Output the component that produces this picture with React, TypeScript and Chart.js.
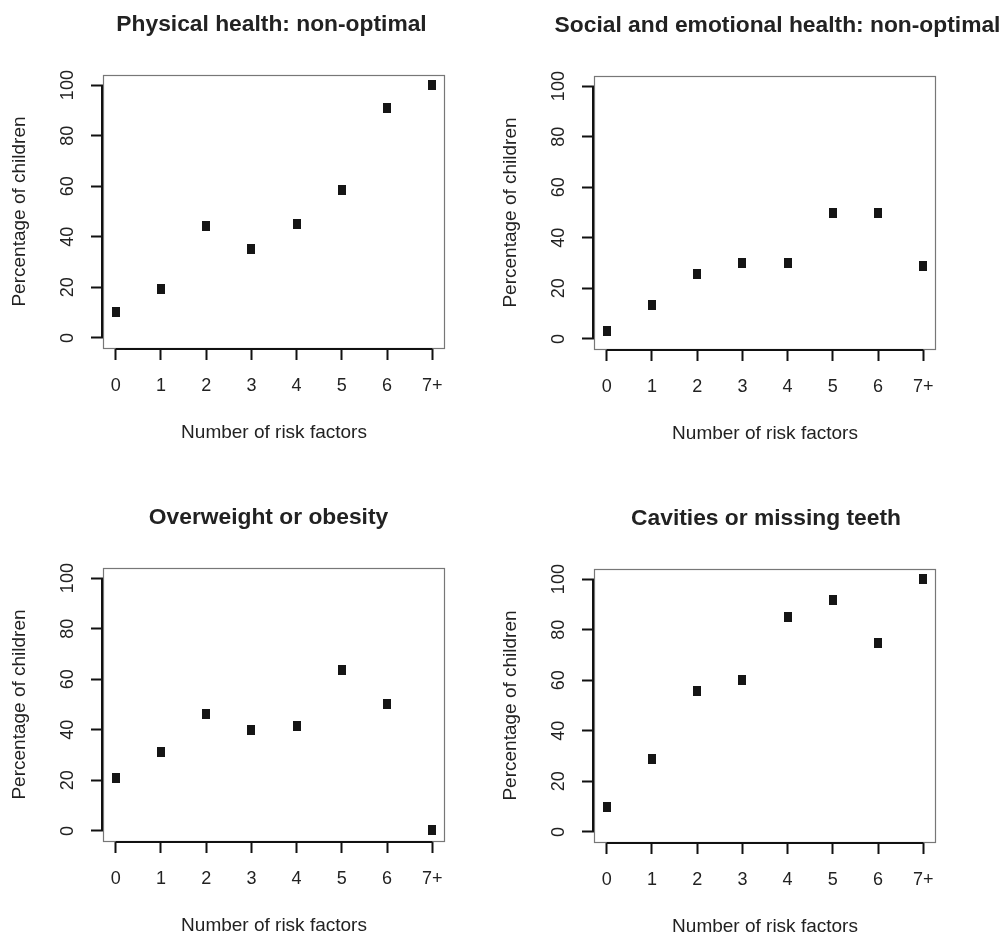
import React, { useEffect, useRef } from 'react';
import { Chart, registerables } from 'chart.js';

Chart.register(...registerables);

// ---- data ----
const categories = ['0', '1', '2', '3', '4', '5', '6', '7+'];
const xValues = [0, 1, 2, 3, 4, 5, 6, 7];
const yTicks = [0, 20, 40, 60, 80, 100];

const physicalHealth = [10.2, 19.2, 44.3, 35, 44.9, 58.4, 91, 100];
const socialEmotional = [3.3, 13.5, 25.8, 30, 30, 50, 50, 28.7];
const overweight = [20.8, 31.2, 46.3, 40.1, 41.4, 63.8, 50.3, 0.3];
const cavities = [10, 28.8, 55.8, 60, 85.1, 91.7, 74.9, 100];

const panelTitles = [
  'Physical health: non-optimal',
  'Social and emotional health: non-optimal',
  'Overweight or obesity',
  'Cavities or missing teeth',
];
const xAxisTitle = 'Number of risk factors';
const yAxisTitle = 'Percentage of children';

// ---- layout / style ----
const FONT = '"Liberation Sans", Arial, Helvetica, sans-serif';
const W = 511;
const H = 480;
const BOX = { left: 103, top: 75, right: 445, bottom: 348 };
const XAXIS_H = 100;
const TEXT = '#222';

const panelPos = [
  { left: 0, top: 0, titleShift: -2.5 },
  { left: 491, top: 1, titleShift: 12.5 },
  { left: 0, top: 493, titleShift: -5.5 },
  { left: 491, top: 494, titleShift: 1 },
];

function makeMarker(): HTMLCanvasElement {
  const c = document.createElement('canvas');
  c.width = 8;
  c.height = 10;
  const g = c.getContext('2d')!;
  g.fillStyle = '#151515';
  g.fillRect(0, 0, 8, 10);
  return c;
}

function rStylePlugin(title: string, titleShift: number) {
  return {
    id: 'rStyle',
    afterDraw(chart: any) {
      const { ctx, chartArea: a, scales } = chart;
      const xs = scales.x;
      const ys = scales.y;
      ctx.save();
      // plot box
      ctx.strokeStyle = '#777';
      ctx.lineWidth = 1.2;
      ctx.strokeRect(a.left + 0.5, a.top + 0.5, a.right - a.left - 1, a.bottom - a.top);
      // axis lines spanning the tick range
      ctx.strokeStyle = '#111';
      ctx.lineWidth = 2;
      ctx.beginPath();
      ctx.moveTo(a.left - 1, ys.getPixelForValue(yTicks[0]));
      ctx.lineTo(a.left - 1, ys.getPixelForValue(yTicks[yTicks.length - 1]));
      ctx.moveTo(xs.getPixelForValue(xValues[0]), a.bottom + 1);
      ctx.lineTo(xs.getPixelForValue(xValues[xValues.length - 1]), a.bottom + 1);
      ctx.stroke();
      // y tick labels, parallel to axis
      ctx.fillStyle = TEXT;
      ctx.font = `18px ${FONT}`;
      ctx.textAlign = 'center';
      ctx.textBaseline = 'alphabetic';
      for (const t of ys.ticks) {
        const y = ys.getPixelForValue(t.value);
        ctx.save();
        ctx.translate(a.left - 30, y);
        ctx.rotate(-Math.PI / 2);
        ctx.fillText(String(t.value), 0, 0);
        ctx.restore();
      }
      // main title
      ctx.font = `bold 22.8px ${FONT}`;
      ctx.fillStyle = TEXT;
      ctx.textAlign = 'center';
      ctx.textBaseline = 'alphabetic';
      ctx.fillText(title, (a.left + a.right) / 2 + titleShift, a.top - 44);
      ctx.restore();
    },
  };
}

function Panel({
  title,
  values,
  left,
  top,
  titleShift,
}: {
  title: string;
  values: number[];
  left: number;
  top: number;
  titleShift: number;
}) {
  const ref = useRef<HTMLCanvasElement>(null);
  useEffect(() => {
    if (!ref.current) return;
    const marker = makeMarker();
    const gridOpts = {
      display: true,
      drawOnChartArea: false,
      drawTicks: true,
      tickLength: 12,
      tickColor: '#111',
      tickWidth: 2,
    };
    const chart = new Chart(ref.current, {
      type: 'scatter',
      data: {
        datasets: [
          {
            data: xValues.map((x, i) => ({ x, y: values[i] })),
            pointStyle: marker as any,
            pointRadius: 5,
            backgroundColor: '#151515',
            borderWidth: 0,
          },
        ],
      },
      options: {
        animation: false,
        responsive: false,
        devicePixelRatio: 1,
        events: [],
        layout: {
          padding: { left: 0, top: BOX.top, right: W - BOX.right, bottom: H - BOX.bottom - XAXIS_H },
        },
        plugins: {
          legend: { display: false },
          tooltip: { enabled: false },
          title: { display: false },
        },
        scales: {
          x: {
            type: 'linear',
            position: 'bottom',
            min: -0.28,
            max: 7.28,
            bounds: 'data',
            afterBuildTicks: (s: any) => {
              s.ticks = xValues.map((v) => ({ value: v }));
            },
            afterFit: (s: any) => {
              s.height = XAXIS_H;
            },
            grid: gridOpts,
            border: { display: false },
            ticks: {
              autoSkip: false,
              maxRotation: 0,
              minRotation: 0,
              padding: 15,
              color: TEXT,
              font: { family: FONT, size: 18 },
              callback: (v: any) => {
                const i = xValues.indexOf(Number(v));
                return i >= 0 ? categories[i] : '';
              },
            },
            title: {
              display: true,
              text: xAxisTitle,
              color: TEXT,
              font: { family: FONT, size: 19 },
              padding: { top: 0, bottom: 4 },
            },
          },
          y: {
            type: 'linear',
            min: -4,
            max: 104,
            bounds: 'data',
            afterBuildTicks: (s: any) => {
              s.ticks = yTicks.map((v) => ({ value: v }));
            },
            afterFit: (s: any) => {
              s.width = BOX.left;
            },
            grid: gridOpts,
            border: { display: false },
            ticks: { display: false },
            title: {
              display: true,
              text: yAxisTitle,
              color: TEXT,
              font: { family: FONT, size: 19 },
              padding: { top: 8, bottom: 0 },
            },
          },
        },
      } as any,
      plugins: [rStylePlugin(title, titleShift)],
    });
    return () => chart.destroy();
  }, [title, values, titleShift]);
  return (
    <canvas
      ref={ref}
      width={W}
      height={H}
      style={{ position: 'absolute', left, top, width: W, height: H }}
    />
  );
}

export default function App() {
  const series = [physicalHealth, socialEmotional, overweight, cavities];
  return (
    <div
      style={{
        position: 'absolute',
        left: 0,
        top: 0,
        width: 1002,
        height: 932,
        overflow: 'hidden',
        background: '#fff',
      }}
    >
      {series.map((vals, i) => (
        <Panel
          key={i}
          title={panelTitles[i]}
          values={vals}
          left={panelPos[i].left}
          top={panelPos[i].top}
          titleShift={panelPos[i].titleShift}
        />
      ))}
    </div>
  );
}
